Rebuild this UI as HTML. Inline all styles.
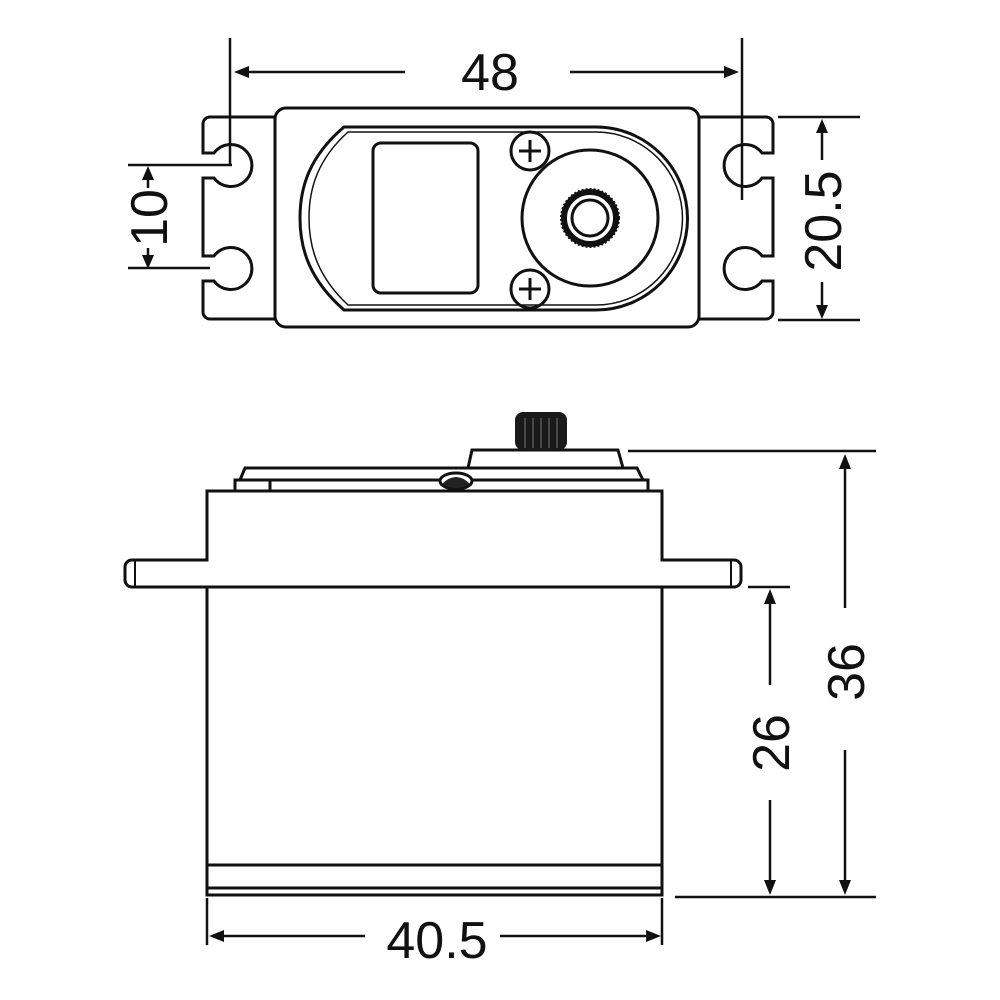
<!DOCTYPE html>
<html><head><style>html,body{margin:0;background:#fff}svg{display:block}</style></head><body>
<svg width="1000" height="1000" viewBox="0 0 1000 1000" xmlns="http://www.w3.org/2000/svg">
<g fill="none" stroke="#111" stroke-width="3">
<!-- top view tabs -->
<path d="M275,117 H210 a7,7 0 0 0 -7,7 V153 H214 A21,21 0 1 1 214,178 H203 V256 H214 A21,21 0 1 1 214,281 H203 V312 a7,7 0 0 0 7,7 H275"/>
<path d="M699,117 H766 a7,7 0 0 1 7,7 V153 H762 A21,21 0 1 0 762,178 H773 V256 H762 A21,21 0 1 0 762,281 H773 V312 a7,7 0 0 1 -7,7 H699"/>
<rect x="275" y="108" width="424" height="219" rx="11"/>
<path d="M344,127 H596 A91,91 0 0 1 596,310 H344 C310,280 300,250 300,218 C300,186 310,156 344,127 Z"/>
<path d="M348,132 H596 A86,86 0 0 1 596,305 H348 C318,277 309,248 309,218 C309,188 318,159 348,132 Z" stroke-width="1.5"/>
<rect x="373" y="143" width="105" height="150" rx="8"/>
<circle cx="590" cy="218" r="68"/>
<circle cx="590" cy="218" r="26" stroke-width="6"/>
<circle cx="590" cy="218" r="29" stroke-width="2" stroke-dasharray="2 2"/>
<circle cx="590" cy="218" r="18"/>
<circle cx="530" cy="151" r="19"/><path d="M519,151 H541 M530,140 V162"/>
<circle cx="530" cy="289" r="19"/><path d="M519,289 H541 M530,278 V300"/>
<!-- top dims -->
<g stroke-width="2.5">
<path d="M230,38 V165 M742,38 V200"/>
<path d="M405,72 H240 M570,72 H733"/>
<path d="M128,165 H232 M128,268 H210"/>
<path d="M148,188 V175 M148,248 V260"/>
<path d="M778,117 H860 M778,320 H860"/>
<path d="M822,160 V128 M822,282 V310"/>
</g>
<!-- side view -->
<path d="M468,468 L472,450 H618 L623,468"/>
<path d="M240,480 L245,468 H637 L643,480"/>
<path d="M235,491 V480 H648 V491 M270,480 V491"/>
<path d="M207,560 V491 H662 V560 H734 a7,7 0 0 1 7,7 V580 a7,7 0 0 1 -7,7 H132 a7,7 0 0 1 -7,-7 V567 a7,7 0 0 1 7,-7 Z"/>
<path d="M135,561 V586 M731,561 V586" stroke-width="2"/>
<path d="M207,587 V895 H662 V587 M207,865 H662 M207,888 H662"/>
<ellipse cx="456" cy="481" rx="16" ry="8" fill="#fff"/>
<!-- side dims -->
<g stroke-width="2.5">
<path d="M628,451 H876 M675,897 H876 M748,587 H790 M207,898 V945 M662,898 V945"/>
<path d="M845,608 V465 M845,750 V883"/>
<path d="M770,685 V600 M770,800 V883"/>
<path d="M365,936 H220 M500,936 H650"/>
</g>
</g>
<g fill="#111">
<polygon points="234,72 249,66 249,78"/>
<polygon points="739,72 724,66 724,78"/>
<polygon points="148,166 142,180 154,180"/>
<polygon points="148,269 142,255 154,255"/>
<polygon points="822,119 816,133 828,133"/>
<polygon points="822,319 816,305 828,305"/>
<polygon points="845,454 839,469 851,469"/>
<polygon points="845,895 839,880 851,880"/>
<polygon points="770,589 764,604 776,604"/>
<polygon points="770,895 764,880 776,880"/>
<polygon points="209,936 224,930 224,942"/>
<polygon points="661,936 646,930 646,942"/>
</g>
<path d="M442,484 Q456,470 470,484 Q456,492 442,484Z" fill="#222"/>
<rect x="515" y="412" width="52" height="38" rx="8" fill="#1a1a1a"/>
<path d="M525,418 V448 M533,418 V448 M541,418 V448 M549,418 V448 M557,418 V448" stroke="#777" stroke-width="1"/>
<g font-family="Liberation Sans, sans-serif" font-size="52" fill="#111" text-anchor="middle">
<text x="490" y="90">48</text>
<text x="437" y="958">40.5</text>
<text transform="translate(167,218) rotate(-90)">10</text>
<text transform="translate(841,221) rotate(-90)">20.5</text>
<text transform="translate(864,672) rotate(-90)">36</text>
<text transform="translate(789,743) rotate(-90)">26</text>
</g>
</svg>
</body></html>
